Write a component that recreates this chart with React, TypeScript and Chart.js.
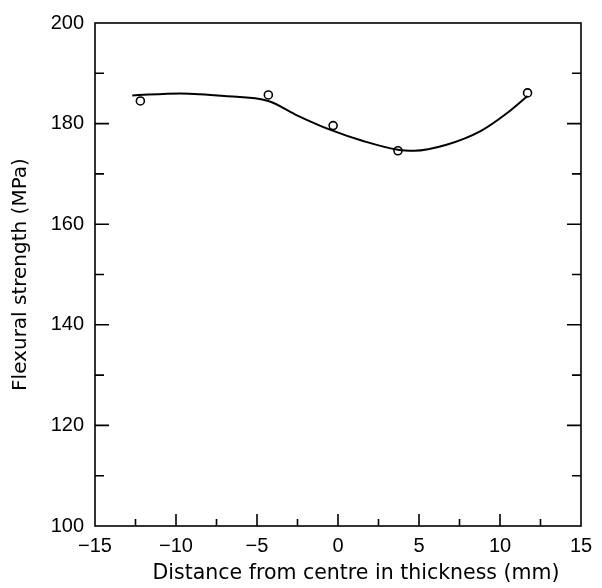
import React, { useEffect, useRef } from "react";
import { Chart, registerables } from "chart.js";

Chart.register(...registerables);

// Measured points
const pointX = [-12.2, -4.3, -0.3, 3.7, 11.7];
const pointY = [184.5, 185.7, 179.6, 174.6, 186.1];

// Fitted curve
const curveX = [-12.7, -9.7, -7.0, -4.3, -2.5, -0.5, 1.6, 3.7, 4.7, 6.7, 8.8, 10.4, 11.7];
const curveY = [185.6, 186.0, 185.5, 184.5, 181.6, 178.8, 176.5, 174.8, 174.6, 175.8, 178.5, 182.0, 185.5];

const xMin = -15;
const xMax = 15;
const xStep = 5;
const yMin = 100;
const yMax = 200;
const yStep = 20;

const xTitle = "Distance from centre in thickness (mm)";
const yTitle = "Flexural strength (MPa)";

const FONT = "'Liberation Sans', Arial, Helvetica, sans-serif";
const TITLE_FONT = "'DejaVu Sans', 'Liberation Sans', sans-serif";

const framePlugin = {
  id: "frameTicks",
  afterDraw(chart: any) {
    const { ctx, chartArea } = chart;
    const xs = chart.scales.x;
    const ys = chart.scales.y;
    const { left, right, top, bottom } = chartArea;
    ctx.save();
    ctx.strokeStyle = "#000";
    ctx.lineWidth = 1.6;
    ctx.strokeRect(left, top, right - left, bottom - top);
    ctx.beginPath();
    // y ticks (left & right), every 10, major every 20
    for (let v = yMin + 10; v < yMax; v += 10) {
      const p = ys.getPixelForValue(v);
      const len = (v - yMin) % 20 === 0 ? 14 : 9;
      ctx.moveTo(left, p);
      ctx.lineTo(left + len, p);
      ctx.moveTo(right, p);
      ctx.lineTo(right - len, p);
    }
    // x ticks (bottom), every 2.5, major every 5
    for (let v = xMin + 2.5; v < xMax - 0.01; v += 2.5) {
      const p = xs.getPixelForValue(v);
      const major = Math.abs(Math.round(v / 5) * 5 - v) < 0.01;
      const len = major ? 12 : 7;
      ctx.moveTo(p, bottom);
      ctx.lineTo(p, bottom - len);
    }
    ctx.stroke();
    // x-axis title
    ctx.fillStyle = "#000";
    ctx.font = `20.5px ${TITLE_FONT}`;
    ctx.textAlign = "center";
    ctx.textBaseline = "middle";
    ctx.fillText(xTitle, (left + right) / 2 + 18, 574);
    ctx.restore();
  },
};

export default function App() {
  const ref = useRef<HTMLCanvasElement | null>(null);
  useEffect(() => {
    document.body.style.margin = "0";
    const canvas = ref.current;
    if (!canvas) return;
    const chart = new Chart(canvas, {
      type: "scatter",
      data: {
        datasets: [
          {
            label: "fit",
            data: curveX.map((x, i) => ({ x, y: curveY[i] })),
            showLine: true,
            borderColor: "#000",
            borderWidth: 2,
            pointRadius: 0,
            cubicInterpolationMode: "monotone",
            fill: false,
          },
          {
            label: "data",
            data: pointX.map((x, i) => ({ x, y: pointY[i] })),
            showLine: false,
            pointRadius: 4,
            pointBorderWidth: 1.6,
            pointBorderColor: "#000",
            pointBackgroundColor: "#fff",
          },
        ],
      },
      options: {
        responsive: false,
        animation: false,
        layout: { padding: { left: 0, top: 20, right: 21, bottom: 0 } },
        plugins: {
          legend: { display: false },
          tooltip: { enabled: false },
        },
        scales: {
          x: {
            type: "linear",
            min: xMin,
            max: xMax,
            grid: { display: false, drawTicks: false },
            border: { display: false },
            afterFit: (s: any) => {
              s.height = 62;
            },
            ticks: {
              stepSize: xStep,
              padding: 8,
              color: "#000",
              font: { family: FONT, size: 20 },
              callback: (v: any) => String(v).replace("-", "\u2212"),
              maxRotation: 0,
            },
          },
          y: {
            type: "linear",
            min: yMin,
            max: yMax,
            grid: { display: false, drawTicks: false },
            border: { display: false },
            afterFit: (s: any) => {
              s.width = 95;
            },
            title: {
              display: true,
              text: yTitle,
              color: "#000",
              font: { family: TITLE_FONT, size: 20 },
              padding: { top: 9, bottom: 0 },
            },
            ticks: {
              stepSize: yStep,
              padding: 11,
              color: "#000",
              font: { family: FONT, size: 20 },
            },
          },
        },
      },
      plugins: [framePlugin],
    });
    return () => chart.destroy();
  }, []);
  return (
    <div style={{ width: 602, height: 588 }}>
      <canvas ref={ref} width={602} height={588} style={{ display: "block" }} />
    </div>
  );
}
